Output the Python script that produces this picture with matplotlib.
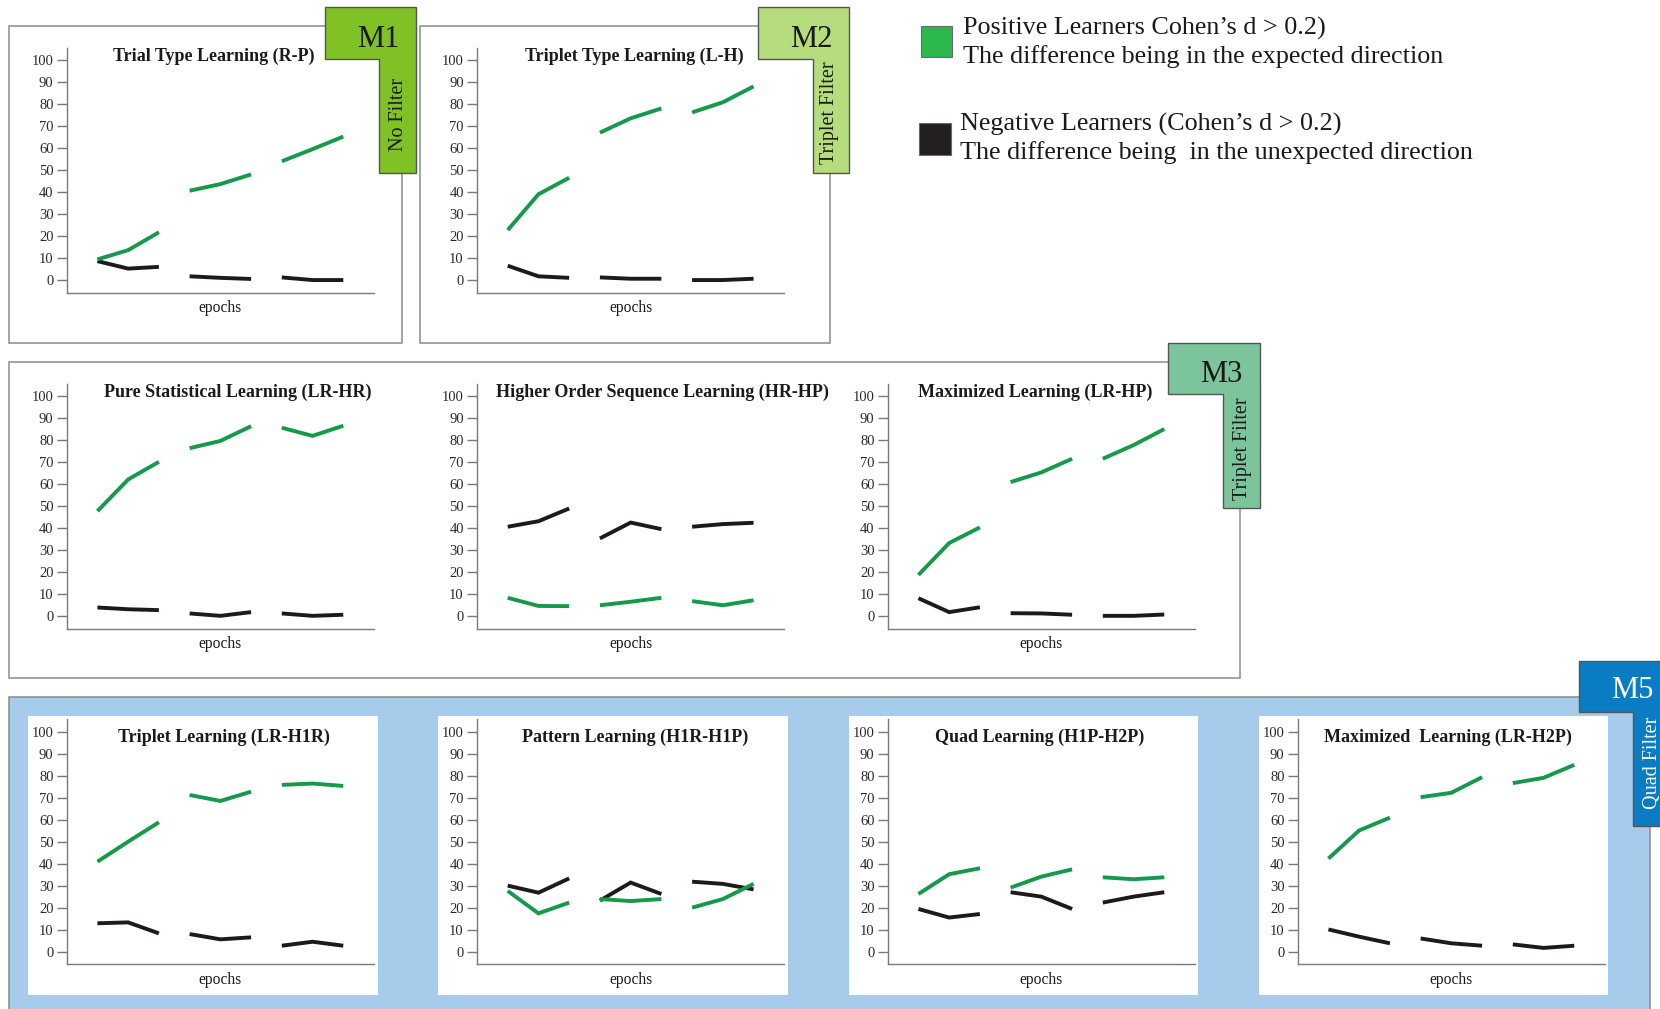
import matplotlib
matplotlib.use("Agg")
import matplotlib.pyplot as plt
from matplotlib import transforms
from matplotlib.patches import Rectangle, Polygon

plt.rcParams['font.family'] = ['Liberation Serif', 'DejaVu Serif']

W, H = 1660, 1009

# Nine measurement points, split into three blocks of three epochs
epochs = [1, 2, 3, 4, 5, 6, 7, 8, 9]
blocks = [(0, 3), (3, 6), (6, 9)]
yticks = list(range(0, 101, 10))

# M1 / M2
pos_trial_type = [9.4, 13.6, 21.7, 40.6, 43.6, 48.0, 54.0, 59.5, 65.2]
neg_trial_type = [8.6, 5.2, 6.0, 1.7, 1.0, 0.5, 1.2, 0.0, 0.0]
pos_triplet_type = [22.7, 39.0, 46.5, 67.0, 73.5, 78.0, 76.2, 80.8, 88.0]
neg_triplet_type = [6.5, 1.7, 1.0, 1.2, 0.6, 0.6, 0.0, 0.0, 0.6]

# M3
pos_pure_stat = [47.6, 62.0, 70.0, 76.2, 79.5, 86.2, 85.5, 81.8, 86.4]
neg_pure_stat = [3.8, 3.0, 2.6, 1.1, 0.0, 1.7, 1.1, 0.0, 0.5]
pos_higher_order = [8.2, 4.5, 4.4, 4.8, 6.4, 8.2, 6.7, 4.8, 7.1]
neg_higher_order = [40.5, 43.0, 48.8, 35.2, 42.4, 39.4, 40.5, 41.7, 42.3]
pos_max_m3 = [18.6, 33.1, 40.2, 60.8, 65.2, 71.4, 71.4, 77.6, 84.9]
neg_max_m3 = [8.0, 1.7, 3.9, 1.2, 1.1, 0.5, 0.0, 0.0, 0.6]

# M5
pos_triplet = [40.9, 50.0, 58.8, 71.2, 68.5, 72.7, 75.8, 76.4, 75.3]
neg_triplet = [12.9, 13.3, 8.3, 8.0, 5.6, 6.5, 2.7, 4.5, 2.7]
pos_pattern = [27.6, 17.4, 22.3, 23.9, 23.0, 23.9, 20.0, 23.9, 30.8]
neg_pattern = [30.0, 26.8, 33.3, 23.2, 31.4, 26.2, 31.8, 30.8, 28.3]
pos_quad = [26.2, 35.2, 37.9, 29.1, 34.1, 37.4, 33.8, 32.9, 33.8]
neg_quad = [19.4, 15.5, 17.1, 27.0, 25.0, 19.4, 22.3, 25.0, 27.0]
pos_max_m5 = [42.3, 55.1, 60.9, 70.2, 72.2, 79.3, 76.6, 79.0, 84.9]
neg_max_m5 = [10.1, 6.8, 3.8, 6.0, 3.8, 2.7, 3.3, 1.7, 2.7]

titles = [
    "Trial Type Learning (R-P)",
    "Triplet Type Learning (L-H)",
    "Pure Statistical Learning (LR-HR)",
    "Higher Order Sequence Learning (HR-HP)",
    "Maximized Learning (LR-HP)",
    "Triplet Learning (LR-H1R)",
    "Pattern Learning (H1R-H1P)",
    "Quad Learning (H1P-H2P)",
    "Maximized  Learning (LR-H2P)",
]

GREEN = '#15994a'
BLACK = '#1c1a1a'
SPINE = '#7a7a7a'
BOX = '#8a8a8a'
LW = 2.8

fig = plt.figure(figsize=(W / 100, H / 100), dpi=100)

# ---- decorative layer in pixel coordinates ----
bg = fig.add_axes([0, 0, 1, 1], zorder=0)
bg.set_xlim(0, W)
bg.set_ylim(H, 0)
bg.axis('off')


def box(x0, y0, x1, y1, **kw):
    bg.add_patch(Rectangle((x0, y0), x1 - x0, y1 - y0, **kw))


# group frames
box(9.3, 26, 402, 343, fc='white', ec=BOX, lw=1.1, zorder=1)
box(420, 26, 830, 343, fc='white', ec=BOX, lw=1.1, zorder=1)
box(9.3, 361.7, 1240, 678, fc='white', ec=BOX, lw=1.1, zorder=1)
box(9.3, 697, 1650, 1015, fc='#a7cbea', ec=BOX, lw=1.1, zorder=1)
for x0 in (28.3, 438.3, 849, 1259):
    box(x0, 716, x0 + 349.3, 995, fc='white', ec='none', zorder=2)


def tag(x0, x_mid, x1, y0, y_mid, y1, color, name, filt, name_xy, filt_xy, tc):
    pts = [(x0, y0), (x1, y0), (x1, y1), (x_mid, y1), (x_mid, y_mid), (x0, y_mid)]
    bg.add_patch(Polygon(pts, closed=True, fc=color, ec='#555555', lw=1.0, zorder=5))
    bg.text(name_xy[0], name_xy[1], name, fontsize=22, color=tc,
            ha='center', va='baseline', zorder=6)
    bg.text(filt_xy[0], filt_xy[1], filt, fontsize=14.5, color=tc, rotation=90,
            ha='center', va='center', zorder=6)


tag(325, 379.3, 416, 7.3, 59.3, 172.7, '#80c125', 'M1', 'No Filter',
    (378, 46.7), (398, 114), '#1a1a1a')
tag(758.3, 812.7, 849.3, 7.3, 59.3, 172.7, '#b6dc7e', 'M2', 'Triplet Filter',
    (811.3, 46.7), (829, 112.5), '#1a1a1a')
tag(1168.3, 1222.7, 1260, 343.3, 394.3, 508.3, '#7cc49b', 'M3', 'Triplet Filter',
    (1221.8, 381.7), (1242, 449), '#1a1a1a')
tag(1579, 1633.3, 1668, 660.7, 712.3, 825.7, '#0a7cc4', 'M5', 'Quad Filter',
    (1632, 698.3), (1652, 763), 'white')

# legend
box(920.7, 26, 951.7, 56.7, fc='#2db84d', ec='#6a6a6a', lw=0.8, zorder=3)
box(919, 123.3, 950.7, 155, fc='#231f20', ec='#6a6a6a', lw=0.8, zorder=3)
leg_kw = dict(fontsize=18.8, color='#1a1a1a', ha='left', va='baseline', zorder=3)
bg.text(962.7, 35, "Positive Learners Cohen\u2019s d > 0.2)", **leg_kw)
bg.text(962.7, 63.3, "The difference being in the expected direction", **leg_kw)
bg.text(960, 131, "Negative Learners (Cohen\u2019s d > 0.2)", **leg_kw)
bg.text(960, 159, "The difference being  in the unexpected direction", **leg_kw)

# ---- line panels ----
AX_W, AX_H = 307.3, 245
YLIM = (-5.75, 105.6)


def panel(left, top, title, tx, ty, pos, neg):
    ax = fig.add_axes([left / W, 1 - (top + AX_H) / H, AX_W / W, AX_H / H], zorder=3)
    ax.patch.set_alpha(0)
    for s, e in blocks:
        ax.plot(epochs[s:e], neg[s:e], color=BLACK, lw=LW,
                solid_capstyle='butt', solid_joinstyle='miter')
    for s, e in blocks:
        ax.plot(epochs[s:e], pos[s:e], color=GREEN, lw=LW,
                solid_capstyle='butt', solid_joinstyle='miter')
    ax.set_xlim(0, 10)
    ax.set_ylim(*YLIM)
    ax.set_xticks([])
    ax.set_yticks(yticks)
    for sp in ('top', 'right'):
        ax.spines[sp].set_visible(False)
    for sp in ('left', 'bottom'):
        ax.spines[sp].set_color(SPINE)
        ax.spines[sp].set_linewidth(1.0)
    ax.tick_params(axis='y', length=7, width=1.0, color=SPINE, pad=2.5,
                   labelsize=10.5, labelcolor='#2a2a2a')
    tr = transforms.blended_transform_factory(ax.transAxes, ax.transData)
    ax.text(tx, ty, title, transform=tr, ha='center', va='center',
            fontsize=13, fontweight='bold', color='#1a1a1a')
    ax.annotate('epochs', xy=(0.5, 0), xycoords='axes fraction',
                xytext=(0, -11.2), textcoords='offset points',
                ha='center', va='center', fontsize=11.2, color='#1a1a1a')
    return ax


ROW_TOPS = (47.7, 383.5, 719.3)
COL_LEFTS = (66.7, 477.0, 887.7, 1297.7)

panel(COL_LEFTS[0], ROW_TOPS[0], titles[0], 0.478, 101.8, pos_trial_type, neg_trial_type)
panel(COL_LEFTS[1], ROW_TOPS[0], titles[1], 0.512, 101.8, pos_triplet_type, neg_triplet_type)

panel(COL_LEFTS[0], ROW_TOPS[1], titles[2], 0.557, 101.8, pos_pure_stat, neg_pure_stat)
panel(COL_LEFTS[1], ROW_TOPS[1], titles[3], 0.604, 101.8, pos_higher_order, neg_higher_order)
panel(COL_LEFTS[2], ROW_TOPS[1], titles[4], 0.479, 101.8, pos_max_m3, neg_max_m3)

panel(COL_LEFTS[0], ROW_TOPS[2], titles[5], 0.512, 97.6, pos_triplet, neg_triplet)
panel(COL_LEFTS[1], ROW_TOPS[2], titles[6], 0.516, 97.6, pos_pattern, neg_pattern)
panel(COL_LEFTS[2], ROW_TOPS[2], titles[7], 0.493, 97.6, pos_quad, neg_quad)
panel(COL_LEFTS[3], ROW_TOPS[2], titles[8], 0.488, 97.4, pos_max_m5, neg_max_m5)

fig.savefig('out.png', dpi=100)
